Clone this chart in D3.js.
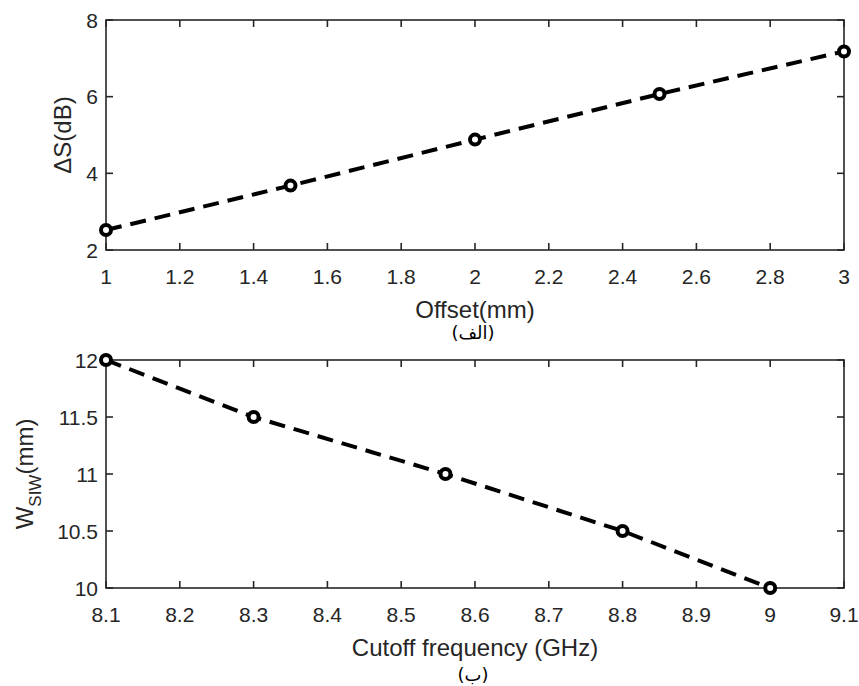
<!DOCTYPE html>
<html>
<head>
<meta charset="utf-8">
<script src="https://cdn.jsdelivr.net/npm/d3@7"></script>
<style>
  body { margin: 0; background: #fff; }
  text { font-family: "Liberation Sans", Arial, Helvetica, sans-serif; fill: #262626; }
  .ar { font-family: "DejaVu Sans", sans-serif; fill: #000; }
</style>
</head>
<body>
<script>
var width = 859,
  height = 686;

// top plot (الف)
var offsetX = [1, 1.5, 2, 2.5, 3];
var deltaS = [2.52, 3.68, 4.88, 6.07, 7.18];
var topXTicks = [1, 1.2, 1.4, 1.6, 1.8, 2, 2.2, 2.4, 2.6, 2.8, 3];
var topYTicks = [2, 4, 6, 8];

// bottom plot (ب)
var cutoffFreq = [8.1, 8.3, 8.56, 8.8, 9];
var wSiw = [12, 11.5, 11, 10.5, 10];
var botXTicks = [8.1, 8.2, 8.3, 8.4, 8.5, 8.6, 8.7, 8.8, 8.9, 9, 9.1];
var botYTicks = [10, 10.5, 11, 11.5, 12];

var svg = d3.select("body")
  .append("svg")
  .attr("width", width)
  .attr("height", height);

var left = 106, right = 844;

function panel(opts) {
  var x = d3.scaleLinear().domain(opts.xDomain).range([left, right]);
  var y = d3.scaleLinear().domain(opts.yDomain).range([opts.bottom, opts.top]);
  var g = svg.append("g");

  // frame
  g.append("rect")
    .attr("x", left).attr("y", opts.top)
    .attr("width", right - left).attr("height", opts.bottom - opts.top)
    .attr("fill", "none").attr("stroke", "#262626").attr("stroke-width", 1.6);

  var tl = 7;
  // x ticks (bottom + top, inward)
  opts.xTicks.forEach(function (t) {
    g.append("line").attr("x1", x(t)).attr("x2", x(t))
      .attr("y1", opts.bottom).attr("y2", opts.bottom - tl)
      .attr("stroke", "#262626").attr("stroke-width", 1.6);
    g.append("line").attr("x1", x(t)).attr("x2", x(t))
      .attr("y1", opts.top).attr("y2", opts.top + tl)
      .attr("stroke", "#262626").attr("stroke-width", 1.6);
    g.append("text")
      .attr("x", x(t)).attr("y", opts.bottom + 34)
      .attr("text-anchor", "middle")
      .style("font-size", "21px")
      .text(t);
  });
  // y ticks (left + right)
  opts.yTicks.forEach(function (t) {
    g.append("line").attr("x1", left).attr("x2", left + tl)
      .attr("y1", y(t)).attr("y2", y(t))
      .attr("stroke", "#262626").attr("stroke-width", 1.6);
    g.append("line").attr("x1", right).attr("x2", right - tl)
      .attr("y1", y(t)).attr("y2", y(t))
      .attr("stroke", "#262626").attr("stroke-width", 1.6);
    g.append("text")
      .attr("x", left - 8).attr("y", y(t) + 7.5)
      .attr("text-anchor", "end")
      .style("font-size", "21px")
      .text(t);
  });

  // x label and arabic caption
  g.append("text")
    .attr("x", (left + right) / 2).attr("y", opts.bottom + 68)
    .attr("text-anchor", "middle")
    .style("font-size", "24px")
    .text(opts.xLabel);
  g.append("text")
    .attr("class", "ar")
    .attr("x", (left + right) / 2 - 2).attr("y", opts.bottom + opts.capOff)
    .attr("text-anchor", "middle")
    .attr("direction", "rtl")
    .style("font-size", "18px")
    .text(opts.caption);

  // y label
  var yl = g.append("text")
    .attr("transform", "translate(" + opts.yLabelX + "," + ((opts.top + opts.bottom) / 2) + ") rotate(-90)")
    .attr("text-anchor", "middle")
    .style("font-size", "24px");
  opts.yLabel(yl);

  // data
  var pts = opts.xs.map(function (d, i) { return [d, opts.ys[i]]; });
  var line = d3.line().x(function (d) { return x(d[0]); }).y(function (d) { return y(d[1]); });
  g.append("path")
    .datum(pts)
    .attr("d", line)
    .attr("fill", "none")
    .attr("stroke", "#000")
    .attr("stroke-width", 4)
    .attr("stroke-dasharray", "16,9");
  g.selectAll("circle.m")
    .data(pts)
    .enter()
    .append("circle")
    .attr("class", "m")
    .attr("cx", function (d) { return x(d[0]); })
    .attr("cy", function (d) { return y(d[1]); })
    .attr("r", 5)
    .attr("fill", "#fff")
    .attr("stroke", "#000")
    .attr("stroke-width", 4);
}

panel({
  top: 20, bottom: 250,
  xDomain: [1, 3], yDomain: [2, 8],
  xTicks: topXTicks, yTicks: topYTicks,
  xs: offsetX, ys: deltaS,
  xLabel: "Offset(mm)",
  caption: "(الف)",
  capOff: 89,
  yLabelX: 71,
  yLabel: function (t) {
    t.text("\u0394S(dB)");
  }
});

panel({
  top: 360, bottom: 588,
  xDomain: [8.1, 9.1], yDomain: [10, 12],
  xTicks: botXTicks, yTicks: botYTicks,
  xs: cutoffFreq, ys: wSiw,
  xLabel: "Cutoff frequency (GHz)",
  caption: "(ب)",
  capOff: 93,
  yLabelX: 33,
  yLabel: function (t) {
    t.append("tspan").text("W");
    t.append("tspan").attr("dy", 8).style("font-size", "17px").text("SIW");
    t.append("tspan").attr("dy", -8).text("(mm)");
  }
});
</script>
</body>
</html>
